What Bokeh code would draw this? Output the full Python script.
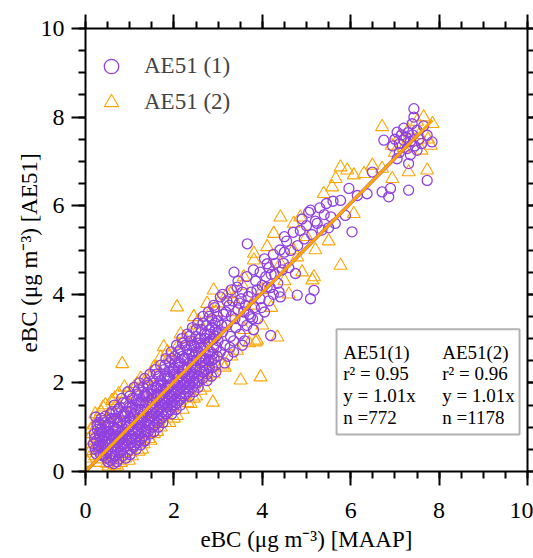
from bokeh.plotting import figure
from bokeh.models import (LinearAxis, SingleIntervalTicker, Range1d, BoxAnnotation,
                          Label, Legend, LegendItem)
from bokeh.embed import file_html
from bokeh.resources import INLINE

FONT = "Liberation Serif"
PURPLE = "#9040E0"
ORANGE = "#FFA500"

# ---------------- data ----------------
# AE51 (1): purple circles, (MAAP eBC, AE51 eBC)
ae51_1_low = [
    (0.18,0.62),(0.2,0.85),(0.22,0.5),(0.23,1.23),(0.25,0.7),(0.27,0.95),(0.3,0.45),(0.3,0.6),
    (0.32,0.8),(0.33,1.05),(0.35,0.55),(0.37,0.7),(0.38,0.9),(0.4,0.35),(0.4,1.15),(0.42,0.5),
    (0.44,0.65),(0.45,0.8),(0.46,1.0),(0.48,0.3),(0.5,0.45),(0.5,0.6),(0.52,0.75),(0.53,0.9),
    (0.55,1.1),(0.56,1.3),(0.57,0.25),(0.58,0.4),(0.6,0.55),(0.6,0.7),(0.62,0.85),(0.63,1.0),
    (0.64,0.18),(0.65,1.2),(0.66,0.35),(0.68,0.5),(0.7,0.65),(0.7,0.8),(0.72,0.95),(0.73,1.1),
    (0.74,1.4),(0.75,0.28),(0.76,0.42),(0.78,0.58),(0.8,0.72),(0.8,0.88),(0.82,1.02),(0.83,1.25),
    (0.84,0.35),(0.85,1.55),(0.86,0.5),(0.88,0.65),(0.9,0.8),(0.9,0.95),(0.92,1.1),(0.93,1.35),
    (0.94,0.42),(0.95,0.58),(0.97,0.75),(0.98,0.9),(1.0,1.05),(1.0,1.2),(1.0,1.7),
]
ae51_1_mid = [
    (1.02,0.5),(1.04,0.65),(1.05,0.8),(1.06,1.45),(1.08,0.95),(1.1,1.1),(1.1,1.3),(1.12,0.6),
    (1.14,0.75),(1.15,1.6),(1.16,0.9),(1.18,1.05),(1.2,1.2),(1.2,1.85),(1.22,0.7),(1.24,0.85),
    (1.25,1.4),(1.26,1.0),(1.28,1.15),(1.3,1.3),(1.3,1.55),(1.32,0.8),(1.34,0.95),(1.35,1.75),
    (1.36,1.1),(1.38,1.25),(1.4,1.4),(1.4,2.0),(1.42,0.9),(1.44,1.05),(1.45,1.6),(1.46,1.2),
    (1.48,1.35),(1.5,1.5),(1.5,1.85),(1.52,1.0),(1.54,1.15),(1.55,1.7),(1.56,1.3),(1.58,1.45),
    (1.6,1.6),(1.6,2.2),(1.62,1.1),(1.64,1.25),(1.65,1.95),(1.66,1.4),(1.68,1.55),(1.7,1.7),
    (1.7,2.05),(1.72,1.2),(1.74,1.35),(1.75,1.85),(1.76,1.5),(1.78,1.65),(1.8,1.8),(1.8,2.4),
    (1.82,1.3),(1.84,1.45),(1.85,2.1),(1.86,1.6),(1.88,1.75),(1.9,1.9),(1.9,2.25),(1.92,1.4),
    (1.94,1.55),(1.95,2.55),(1.96,1.7),(1.98,1.85),(2.0,2.0),(2.0,2.35),
]
ae51_1_high = [
    (2.02,1.5),(2.04,1.65),(2.05,2.2),(2.06,1.8),(2.08,1.95),(2.1,2.1),(2.1,2.7),(2.12,1.6),
    (2.14,1.75),(2.15,2.45),(2.16,1.9),(2.18,2.05),(2.2,2.2),(2.2,2.9),(2.22,1.7),(2.24,1.85),
    (2.25,2.55),(2.26,2.0),(2.28,2.15),(2.3,2.3),(2.3,2.75),(2.32,1.8),(2.34,1.95),(2.35,3.05),
    (2.36,2.1),(2.38,2.25),(2.4,2.4),(2.4,2.65),(2.42,1.9),(2.44,2.05),(2.45,2.85),(2.46,2.2),
    (2.48,2.35),(2.5,2.5),(2.5,3.2),(2.52,2.0),(2.55,2.15),(2.56,2.7),(2.58,2.3),(2.6,2.45),
    (2.6,3.0),(2.62,2.6),(2.65,2.1),(2.66,3.35),(2.68,2.25),(2.7,2.4),(2.7,2.85),(2.72,2.55),
    (2.75,3.1),(2.76,2.2),(2.78,2.7),(2.8,2.35),(2.8,3.5),(2.82,2.95),(2.85,2.5),(2.86,3.25),
    (2.88,2.65),(2.9,2.8),(2.92,3.7),(2.94,2.4),(2.95,3.05),(2.98,2.6),(3.0,3.4),(3.0,2.95),
]
ae51_1_fill_a = [
    (0.21,0.75),(0.24,0.4),(0.26,1.05),(0.29,0.55),(0.31,0.85),(0.34,0.38),(0.36,1.2),(0.39,0.62),
    (0.41,0.8),(0.43,1.1),(0.47,0.42),(0.49,0.9),(0.51,0.22),(0.54,0.62),(0.56,0.85),(0.59,1.2),
    (0.61,0.3),(0.64,0.78),(0.67,0.95),(0.69,1.35),(0.71,0.22),(0.73,0.55),(0.77,0.75),(0.79,1.15),
    (0.81,0.45),(0.83,0.62),(0.87,0.85),(0.89,1.25),(0.91,0.3),(0.93,0.7),(0.96,1.0),(0.99,1.45),
    (1.01,0.38),(1.03,0.72),(1.07,1.15),(1.09,0.55),(1.11,0.85),(1.13,1.4),(1.17,0.65),(1.19,0.95),
    (1.21,1.55),(1.23,1.1),(1.27,0.75),(1.29,1.25),(1.31,1.7),(1.33,0.68),(1.37,0.9),(1.39,1.55),
    (1.41,1.15),(1.43,1.75),(1.47,0.85),(1.49,1.25),
]
ae51_1_fill_b = [
    (1.51,1.65),(1.53,1.4),(1.57,1.05),(1.59,1.9),(1.61,1.35),(1.63,1.75),(1.67,1.15),(1.69,1.45),
    (1.71,1.95),(1.73,1.6),(1.77,1.25),(1.79,2.15),(1.81,1.55),(1.83,1.9),(1.87,1.35),(1.89,1.65),
    (1.91,2.1),(1.93,1.8),(1.97,1.5),(1.99,2.2),(2.01,1.75),(2.03,2.45),(2.07,1.55),(2.09,1.85),
    (2.11,2.35),(2.13,2.0),(2.17,1.65),(2.19,2.6),(2.21,1.95),(2.23,2.3),(2.27,1.75),(2.29,2.05),
    (2.31,2.55),(2.33,2.2),(2.37,1.95),(2.39,2.85),(2.41,2.15),(2.43,2.5),(2.47,2.0),(2.49,2.7),
    (2.51,2.3),(2.53,2.9),(2.57,2.05),(2.59,2.55),(2.61,2.8),(2.63,2.25),(2.67,2.5),(2.69,3.1),
    (2.71,2.65),(2.73,2.3),(2.77,2.9),(2.79,2.5),(2.81,3.2),(2.83,2.7),(2.87,2.35),(2.89,3.0),
    (2.91,2.55),(2.93,3.35),(2.97,2.8),(2.99,3.15),
]
ae51_1_fill_c = [
    (0.3,1.1),(0.35,0.95),(0.45,1.25),(0.5,1.05),(0.6,1.35),(0.65,1.5),(0.7,1.2),(0.78,1.45),
    (0.82,1.65),(0.86,1.3),(0.92,1.55),(0.96,1.8),(1.02,1.35),(1.06,1.65),(1.1,1.9),(1.14,1.5),
    (1.18,1.75),(1.22,2.0),(1.26,1.6),(1.3,1.9),(1.34,2.1),(1.38,1.7),(1.42,1.95),(1.46,2.2),
    (1.5,1.75),(1.54,2.05),(1.58,2.3),(1.62,1.9),(1.66,2.15),(1.7,2.4),(1.74,2.0),(1.78,2.3),
    (1.82,2.55),(1.86,2.15),(1.9,2.45),(1.94,2.7),(1.98,2.3),(2.02,2.6),(2.06,2.85),(2.1,2.45),
    (2.14,2.75),(2.18,3.0),(2.22,2.55),(2.26,2.85),(2.3,3.1),(2.34,2.65),(2.38,2.95),(2.42,3.25),
    (2.46,2.8),(2.5,3.05),(2.54,3.35),(2.58,2.9),(2.62,3.2),(2.66,3.5),(2.7,3.0),(2.74,3.3),
    (2.78,3.6),(2.82,3.1),(2.86,3.45),(2.9,3.75),(2.94,3.2),(2.98,3.5),
    (1.15,0.5),(1.35,0.7),(1.55,0.9),(1.75,1.1),(1.95,1.3),(2.15,1.5),(2.35,1.7),(2.55,1.9),
    (2.75,2.05),(2.95,2.25),(3.15,2.45),(3.35,2.7),(3.55,2.85),(1.25,0.6),(1.65,1.0),(2.05,1.4),
    (2.45,1.8),(2.85,2.15),
]
ae51_1_sparse = [
    (3.05,3.94),(3.05,2.7),(3.1,3.15),(3.12,3.55),(3.15,2.85),(3.2,3.3),(3.22,2.6),(3.25,3.75),
    (3.28,3.05),(3.3,3.5),(3.36,4.5),(3.35,2.95),(3.4,3.25),(3.43,4.16),(3.45,3.65),(3.5,3.1),
    (3.52,3.9),(3.55,3.4),(3.6,2.95),(3.62,3.75),(3.66,5.14),(3.65,3.3),(3.7,3.55),(3.73,3.49),
    (3.75,4.05),(3.8,3.2),(3.82,3.7),(3.85,4.3),(3.9,3.45),(3.95,3.9),(4.0,4.2),(4.05,3.6),
    (4.11,4.69),(4.11,4.16),(4.15,3.85),(4.19,3.07),(4.2,4.45),(4.25,4.0),(4.3,4.7),(4.35,4.25),
    (4.41,3.94),(4.45,4.55),(4.5,4.95),(4.55,5.2),(4.6,4.6),(4.64,4.99),(4.7,5.4),(4.75,4.47),
    (4.79,3.98),(4.8,5.1),(4.86,5.44),(4.9,5.7),(4.95,5.25),(5.0,5.55),(5.05,5.85),(5.09,5.9),
    (5.09,3.9),(5.12,5.35),(5.17,4.09),(5.2,5.65),(5.24,5.6),(5.3,5.95),(5.35,5.45),(5.4,5.8),
    (5.45,6.05),(5.5,5.5),(5.55,5.75),(5.6,6.1),(5.65,5.6),(5.77,6.12),(5.88,5.78),(5.96,6.39),
    (6.03,5.41),(6.15,6.23),(6.37,6.27),(6.49,6.76),(6.71,6.31),(6.86,6.2),(6.9,6.39),
    (3.08,3.3),(3.18,3.6),(3.27,2.8),(3.33,3.85),(3.38,3.45),(3.48,3.8),(3.58,3.6),(3.68,3.95),
    (3.78,3.45),(3.88,4.1),(3.98,3.7),(4.08,4.4),(4.18,4.15),(4.28,4.45),(4.38,4.05),(4.48,4.7),
    (3.1,4.0),(3.2,3.85),(3.3,4.1),(3.45,4.3),(3.55,4.05),(3.65,4.4),(3.8,4.55),(3.95,4.5),
    (4.05,4.8),(4.15,4.6),(4.25,4.9),(4.4,5.0),(4.5,5.3),
]
ae51_1_top = [
    (6.75,7.48),(7.05,7.66),(7.2,7.48),(7.28,7.29),(7.05,7.06),(7.31,6.95),(7.73,6.57),(7.31,6.35),
    (7.43,8.19),(7.43,8.0),(7.39,7.85),(7.84,7.44),(7.73,7.59),(7.0,7.5),(7.1,7.4),(7.15,7.6),
    (7.25,7.55),(7.3,7.65),(7.35,7.45),(7.4,7.6),(7.45,7.35),(7.5,7.7),(7.55,7.5),(7.6,7.4),
    (7.2,7.75),(7.1,7.2),(6.95,7.35),(7.5,7.25),(7.65,7.8),(7.35,7.15),
]

# AE51 (2): orange triangles
ae51_2_edge = [
    (0.08,0.3),(0.11,0.47),(0.14,0.62),(0.15,0.85),(0.18,0.7),(0.2,1.05),(0.22,0.35),(0.25,0.55),
    (0.28,1.2),(0.3,0.2),(0.32,0.95),(0.35,1.35),(0.38,0.28),(0.41,0.96),(0.45,1.5),(0.48,0.18),
    (0.5,1.2),(0.55,0.3),(0.57,1.31),(0.6,1.6),(0.65,0.15),(0.7,1.5),(0.75,1.75),(0.8,0.2),
    (0.83,2.43),(0.85,1.3),(0.9,0.3),(0.94,1.76),(1.0,1.5),(1.05,0.35),(1.1,1.9),(1.17,1.98),
    (1.2,0.45),(1.32,0.62),(1.35,2.05),(1.43,0.74),(1.47,0.7),(1.47,2.13),(1.55,0.85),(1.6,2.35),
    (1.7,1.0),(1.7,2.58),(1.77,2.81),(1.8,1.1),(1.9,2.6),(2.0,1.2),(2.07,1.26),(2.07,3.71),
    (2.1,2.85),(2.2,1.4),(2.25,3.0),(2.31,1.55),(2.38,3.12),(2.38,1.53),(2.45,3.49),(2.5,1.7),
    (2.6,1.83),(2.6,3.3),(2.75,2.13),(2.8,3.55),(2.88,1.56),(2.9,2.2),(3.0,3.8),(3.1,2.4),
    (3.2,4.0),(3.3,2.6),(3.43,2.73),(3.51,2.06),(3.55,4.2),(3.7,2.9),(3.88,2.96),(3.96,2.13),
    (4.0,3.3),
    (0.05,0.2),(0.12,0.95),(0.22,1.3),(0.4,1.45),(0.52,0.12),(0.66,1.65),(0.72,0.12),(0.88,1.9),
    (0.98,0.25),(1.25,2.1),(1.28,0.5),(1.55,2.35),(1.62,0.9),(1.85,2.7),(1.9,1.1),(2.15,3.1),
    (2.45,1.65),(2.55,3.4),(2.7,1.9),(2.95,3.6),(3.15,2.35),(3.35,3.9),
]
ae51_2_inner = [
    (0.4,0.6),(0.55,0.8),(0.7,0.45),(0.75,1.0),(0.9,0.6),(1.0,0.9),(1.1,0.7),(1.2,1.35),
    (1.3,1.0),(1.45,1.3),(1.55,1.6),(1.65,1.2),(1.75,1.5),(1.85,1.9),(1.95,1.45),(2.05,2.0),
    (2.15,1.7),(2.25,2.35),(2.35,1.85),(2.45,2.6),(2.55,2.2),(2.65,2.8),(2.75,2.45),(2.85,3.0),
    (2.95,2.6),(0.3,0.75),(0.6,1.1),(0.85,0.7),(1.15,1.1),(1.4,1.65),
]
ae51_2_upper = [
    (2.75,3.79),(2.9,4.09),(3.28,4.01),(3.58,4.39),(3.4,3.6),(3.6,3.2),(3.81,4.77),(3.81,4.92),
    (3.85,2.92),(3.75,3.75),(4.0,4.1),(4.11,5.07),(4.2,3.7),(4.26,5.37),(4.34,3.03),(4.41,4.69),
    (4.41,5.74),(4.5,4.3),(4.6,4.0),(4.71,5.6),(4.79,4.84),(4.86,5.74),(4.7,5.0),(4.9,4.5),
    (5.0,5.3),(5.13,4.32),(5.17,4.39),(5.2,5.0),(5.39,6.27),(5.5,5.2),(5.58,6.42),(5.66,6.61),
    (5.77,6.87),(5.77,4.65),(5.92,6.8),(6.07,6.69),(6.07,5.82),(6.3,6.72),(6.49,6.91),(6.71,6.84),
    (6.94,6.61),(7.31,6.76),(7.73,6.8),
    (6.71,7.78),(6.93,7.36),(7.0,7.2),(7.1,7.55),(7.2,7.3),(7.3,7.7),(7.4,7.45),(7.5,7.9),
    (7.55,7.6),(7.6,7.25),(7.65,8.0),(7.75,7.5),(7.81,7.36),(7.85,7.85),
]

# linear fits through origin
fit_slope = [1.01, 1.01]
fit_xmax = [7.55, 7.85]

# stats table
stats_col1 = ["AE51(1)", "r\u00b2 = 0.95", "y = 1.01x", "n =772"]
stats_col2 = ["AE51(2)", "r\u00b2 = 0.96", "y = 1.01x", "n =1178"]

series1 = (ae51_1_low + ae51_1_mid + ae51_1_high + ae51_1_fill_a + ae51_1_fill_b
           + ae51_1_fill_c + ae51_1_sparse + ae51_1_top)
series2 = ae51_2_edge + ae51_2_inner + ae51_2_upper
x1 = [pt[0] for pt in series1]
y1 = [pt[1] for pt in series1]
x2 = [pt[0] for pt in series2]
y2 = [pt[1] for pt in series2]

# ---------------- figure ----------------
p = figure(width=533, height=558, x_range=Range1d(0, 10), y_range=Range1d(0, 10),
           output_backend="svg", toolbar_location=None,
           min_border_left=85, min_border_top=28, min_border_right=0, min_border_bottom=87)
p.grid.visible = False
p.outline_line_color = None
p.background_fill_color = "white"


def style(ax, labels=True):
    ax.ticker = SingleIntervalTicker(interval=2, num_minor_ticks=4)
    ax.axis_line_width = 2
    ax.axis_line_color = "black"
    ax.major_tick_line_width = 2
    ax.minor_tick_line_width = 2
    ax.major_tick_line_color = "black"
    ax.minor_tick_line_color = "black"
    ax.major_tick_out = 14
    ax.major_tick_in = 0
    ax.minor_tick_out = 7
    ax.minor_tick_in = 0
    ax.major_label_text_font = FONT
    if labels:
        ax.major_label_text_font_size = "24px"
        ax.major_label_text_color = "black"
    else:
        ax.major_label_text_font_size = "0px"
        ax.major_label_text_color = None
        ax.major_label_standoff = 0


xa = p.xaxis[0]
ya = p.yaxis[0]
style(xa)
style(ya)
xa.major_label_standoff = 17
ya.major_label_standoff = 7
xa.axis_label = "eBC (\u03bcg m\u207b\u00b3) [MAAP]"
ya.axis_label = "eBC (\u03bcg m\u207b\u00b3)  [AE51]"
for ax in (xa, ya):
    ax.axis_label_text_font = FONT
    ax.axis_label_text_font_size = "23px"
    ax.axis_label_text_font_style = "normal"
    ax.axis_label_text_color = "black"
xa.axis_label_standoff = 6
ya.axis_label_standoff = -4

top = LinearAxis()
style(top, labels=False)
p.add_layout(top, "above")
right = LinearAxis()
style(right, labels=False)
right.major_tick_out = 6
right.minor_tick_out = 6
p.add_layout(right, "right")

r2 = p.scatter(x2, y2, marker="triangle", size=13, fill_color=None,
               line_color=ORANGE, line_width=1.1)
r1 = p.scatter(x1, y1, marker="circle", size=10, fill_color=None,
               line_color=PURPLE, line_width=1.3)

p.line([0, fit_xmax[0]], [0, fit_slope[0] * fit_xmax[0]], line_color=PURPLE, line_width=3.5)
p.line([0, fit_xmax[1]], [0, fit_slope[1] * fit_xmax[1]], line_color=ORANGE, line_width=3)

legend = Legend(items=[LegendItem(label="AE51 (1)", renderers=[r1]),
                       LegendItem(label="AE51 (2)", renderers=[r2])],
                location=(8, 351), margin=0, padding=4, spacing=-12,
                glyph_width=36, glyph_height=36, label_standoff=15, label_height=24,
                label_text_font=FONT, label_text_font_size="23px",
                background_fill_alpha=0, border_line_color=None)
p.add_layout(legend)

box = BoxAnnotation(left=5.68, right=9.82, bottom=0.836, top=3.21,
                    fill_color="white", fill_alpha=1, line_color="black", line_width=2)
p.add_layout(box)
row_y = [2.695, 2.214, 1.717, 1.227]
col_x = [5.83, 8.07]
for i, yv in enumerate(row_y):
    for cx, col in zip(col_x, (stats_col1, stats_col2)):
        p.add_layout(Label(x=cx, y=yv, text=col[i], text_font=FONT, text_font_size="19px",
                           text_baseline="middle", text_align="left", text_color="black"))

open("out.html", "w").write(file_html(p, INLINE))
